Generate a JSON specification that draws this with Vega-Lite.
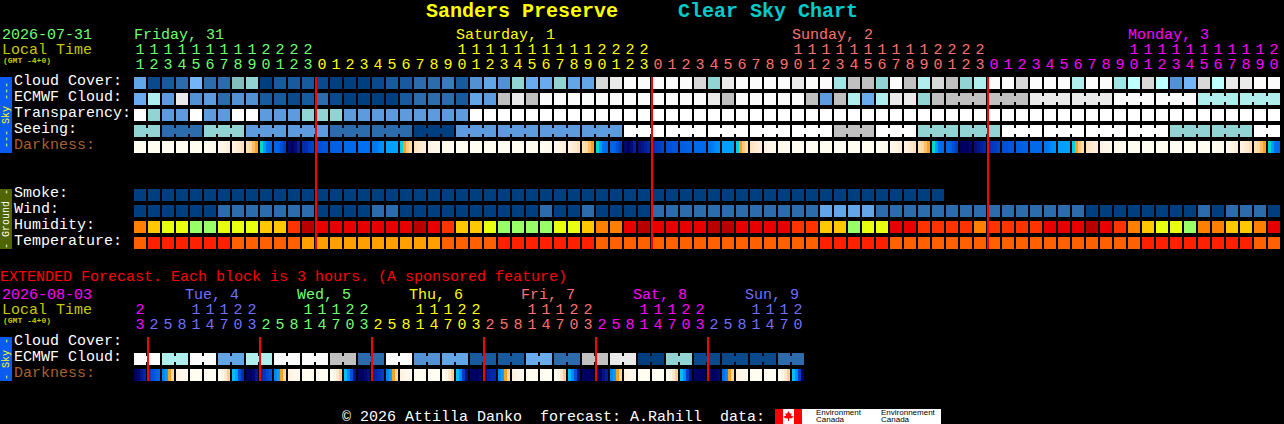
{"$schema":"https://vega.github.io/schema/vega-lite/v6.json","width":1284,"height":424,"padding":0,"autosize":"none","background":"#000000","config":{"view":{"stroke":null},"text":{"font":"Liberation Mono","fontSize":15,"align":"left"}},
"datasets":{
"hourly":[
{"i":0,"t":"1","o":"1","day":"Fri","cc":"c40","ec":"c45","tr":"w","se":"c60","sm":"c0","wi":"c0","hu":"h1","te":"t1","d1":0,"d2":0,"d3":0,"d4":0},
{"i":1,"t":"1","o":"2","day":"Fri","cc":"c5","ec":"c70","tr":"c60","se":"c60","sm":"c0","wi":"c0","hu":"h2","te":"t2","d1":0,"d2":0,"d3":0,"d4":0},
{"i":2,"t":"1","o":"3","day":"Fri","cc":"c10","ec":"c35","tr":"c35","se":"c20","sm":"c0","wi":"c0","hu":"h3","te":"t2","d1":0,"d2":0,"d3":0,"d4":0},
{"i":3,"t":"1","o":"4","day":"Fri","cc":"c20","ec":"c90","tr":"c35","se":"c20","sm":"c0","wi":"c0","hu":"h3","te":"t2","d1":0,"d2":0,"d3":0,"d4":0},
{"i":4,"t":"1","o":"5","day":"Fri","cc":"c50","ec":"c30","tr":"w","se":"c20","sm":"c0","wi":"c0","hu":"h4","te":"t2","d1":0,"d2":0,"d3":0,"d4":0},
{"i":5,"t":"1","o":"6","day":"Fri","cc":"c20","ec":"c35","tr":"c35","se":"c60","sm":"c0","wi":"c0","hu":"h4","te":"t2","d1":0.1,"d2":0.3,"d3":0.4,"d4":0.5},
{"i":6,"t":"1","o":"7","day":"Fri","cc":"c20","ec":"c20","tr":"c35","se":"c60","sm":"c0","wi":"c20","hu":"h3","te":"t2","d1":0.6,"d2":0.9,"d3":1.2,"d4":1.5},
{"i":7,"t":"1","o":"8","day":"Fri","cc":"c55","ec":"c30","tr":"w","se":"c60","sm":"c0","wi":"c20","hu":"h3","te":"t1","d1":1.2,"d2":1.6,"d3":2,"d4":2.4},
{"i":8,"t":"1","o":"9","day":"Fri","cc":"c60","ec":"c30","tr":"w","se":"c35","sm":"c0","wi":"c20","hu":"h3","te":"t1","d1":2.5,"d2":3,"d3":3.5,"d4":4},
{"i":9,"t":"2","o":"0","day":"Fri","cc":"c0","ec":"c10","tr":"c35","se":"c35","sm":"c0","wi":"c20","hu":"h2","te":"t1","d1":4.9,"d2":6.2,"d3":7,"d4":7.2},
{"i":10,"t":"2","o":"1","day":"Fri","cc":"c10","ec":"c10","tr":"c35","se":"c35","sm":"c0","wi":"c20","hu":"h2","te":"t1","d1":7.3,"d2":7.5,"d3":8,"d4":8.5},
{"i":11,"t":"2","o":"2","day":"Fri","cc":"c10","ec":"c5","tr":"c35","se":"c35","sm":"c0","wi":"c20","hu":"h5","te":"t1","d1":9.8,"d2":10,"d3":9.7,"d4":9.2},
{"i":12,"t":"2","o":"3","day":"Fri","cc":"c10","ec":"c10","tr":"c60","se":"c35","sm":"c0","wi":"c20","hu":"h7","te":"t3","d1":9,"d2":8.8,"d3":8.5,"d4":8.3},
{"i":13,"t":"","o":"0","day":"Sat","cc":"c5","ec":"c20","tr":"c60","se":"c35","sm":"c0","wi":"c0","hu":"h6","te":"t3","d1":8,"d2":8,"d3":7.8,"d4":7.8},
{"i":14,"t":"","o":"1","day":"Sat","cc":"c0","ec":"c5","tr":"c60","se":"c20","sm":"c0","wi":"c0","hu":"h6","te":"t3","d1":7.6,"d2":7.5,"d3":7.5,"d4":7.4},
{"i":15,"t":"","o":"2","day":"Sat","cc":"c0","ec":"c0","tr":"c35","se":"c20","sm":"c0","wi":"c0","hu":"h6","te":"t3","d1":7.2,"d2":7.2,"d3":7.2,"d4":7.2},
{"i":16,"t":"","o":"3","day":"Sat","cc":"c0","ec":"c0","tr":"c35","se":"c20","sm":"c0","wi":"c0","hu":"h6","te":"t3","d1":7,"d2":7,"d3":7,"d4":7},
{"i":17,"t":"","o":"4","day":"Sat","cc":"c5","ec":"c0","tr":"c35","se":"c20","sm":"c0","wi":"c20","hu":"h6","te":"t3","d1":6.9,"d2":6.8,"d3":6.5,"d4":6.3},
{"i":18,"t":"","o":"5","day":"Sat","cc":"c10","ec":"c0","tr":"c35","se":"c20","sm":"c0","wi":"c20","hu":"h6","te":"t3","d1":6,"d2":6,"d3":6,"d4":6},
{"i":19,"t":"","o":"6","day":"Sat","cc":"c10","ec":"c10","tr":"c35","se":"c20","sm":"c0","wi":"c0","hu":"h6","te":"t3","d1":5.2,"d2":4,"d3":3.3,"d4":2.8},
{"i":20,"t":"","o":"7","day":"Sat","cc":"c20","ec":"c20","tr":"c35","se":"c0","sm":"c0","wi":"c0","hu":"h7","te":"t3","d1":2.3,"d2":2,"d3":1.7,"d4":1.5},
{"i":21,"t":"","o":"8","day":"Sat","cc":"c20","ec":"c20","tr":"c35","se":"c0","sm":"c0","wi":"c0","hu":"h6","te":"t3","d1":1.2,"d2":1,"d3":0.9,"d4":0.8},
{"i":22,"t":"","o":"9","day":"Sat","cc":"c25","ec":"c20","tr":"c35","se":"c0","sm":"c0","wi":"c0","hu":"h5","te":"t1","d1":0.6,"d2":0.5,"d3":0.4,"d4":0.3},
{"i":23,"t":"1","o":"0","day":"Sat","cc":"c10","ec":"c10","tr":"c35","se":"c35","sm":"c0","wi":"c0","hu":"h2","te":"t1","d1":0,"d2":0,"d3":0,"d4":0},
{"i":24,"t":"1","o":"1","day":"Sat","cc":"c30","ec":"c40","tr":"w","se":"c35","sm":"c0","wi":"c0","hu":"h2","te":"t1","d1":0,"d2":0,"d3":0,"d4":0},
{"i":25,"t":"1","o":"2","day":"Sat","cc":"c40","ec":"c35","tr":"w","se":"c35","sm":"c0","wi":"c0","hu":"h3","te":"t1","d1":0,"d2":0,"d3":0,"d4":0},
{"i":26,"t":"1","o":"3","day":"Sat","cc":"c30","ec":"c80","tr":"w","se":"c35","sm":"c0","wi":"c0","hu":"h4","te":"t2","d1":0,"d2":0,"d3":0,"d4":0},
{"i":27,"t":"1","o":"4","day":"Sat","cc":"c60","ec":"c90","tr":"w","se":"c35","sm":"c0","wi":"c0","hu":"h4","te":"t2","d1":0,"d2":0,"d3":0,"d4":0},
{"i":28,"t":"1","o":"5","day":"Sat","cc":"c45","ec":"c80","tr":"w","se":"c35","sm":"c0","wi":"c0","hu":"h4","te":"t2","d1":0,"d2":0,"d3":0,"d4":0},
{"i":29,"t":"1","o":"6","day":"Sat","cc":"c45","ec":"c95","tr":"w","se":"c35","sm":"c0","wi":"c20","hu":"h4","te":"t2","d1":0.1,"d2":0.3,"d3":0.4,"d4":0.5},
{"i":30,"t":"1","o":"7","day":"Sat","cc":"c60","ec":"c95","tr":"w","se":"c35","sm":"c0","wi":"c0","hu":"h3","te":"t2","d1":0.6,"d2":0.9,"d3":1.2,"d4":1.5},
{"i":31,"t":"1","o":"8","day":"Sat","cc":"c40","ec":"c95","tr":"w","se":"c35","sm":"c0","wi":"c0","hu":"h3","te":"t2","d1":1.2,"d2":1.6,"d3":2,"d4":2.4},
{"i":32,"t":"1","o":"9","day":"Sat","cc":"c40","ec":"c95","tr":"w","se":"c35","sm":"c0","wi":"c20","hu":"h2","te":"t2","d1":2.5,"d2":3,"d3":3.5,"d4":4},
{"i":33,"t":"2","o":"0","day":"Sat","cc":"c85","ec":"c95","tr":"w","se":"c35","sm":"c0","wi":"c0","hu":"h1","te":"t1","d1":4.9,"d2":6.2,"d3":7,"d4":7.2},
{"i":34,"t":"2","o":"1","day":"Sat","cc":"c90","ec":"c95","tr":"w","se":"c35","sm":"c0","wi":"c0","hu":"h1","te":"t1","d1":7.3,"d2":7.5,"d3":8,"d4":8.5},
{"i":35,"t":"2","o":"2","day":"Sat","cc":"c95","ec":"c95","tr":"w","se":"w","sm":"c0","wi":"c0","hu":"h6","te":"t1","d1":9.8,"d2":10,"d3":9.7,"d4":9.2},
{"i":36,"t":"2","o":"3","day":"Sat","cc":"c95","ec":"c95","tr":"w","se":"w","sm":"c0","wi":"c0","hu":"h7","te":"t1","d1":9.6,"d2":9.4,"d3":9.2,"d4":9},
{"i":37,"t":"","o":"0","day":"Sun","cc":"c95","ec":"c95","tr":"w","se":"w","sm":"c0","wi":"c20","hu":"h6","te":"t1","d1":8.8,"d2":8.6,"d3":8.5,"d4":8.3},
{"i":38,"t":"","o":"1","day":"Sun","cc":"c95","ec":"c95","tr":"w","se":"w","sm":"c0","wi":"c20","hu":"h6","te":"t1","d1":8,"d2":8,"d3":7.8,"d4":7.8},
{"i":39,"t":"","o":"2","day":"Sun","cc":"c95","ec":"c95","tr":"w","se":"w","sm":"c0","wi":"c20","hu":"h6","te":"t1","d1":7.6,"d2":7.5,"d3":7.5,"d4":7.4},
{"i":40,"t":"","o":"3","day":"Sun","cc":"c85","ec":"c95","tr":"w","se":"w","sm":"c0","wi":"c20","hu":"h6","te":"t1","d1":7.2,"d2":7.2,"d3":7.2,"d4":7.2},
{"i":41,"t":"","o":"4","day":"Sun","cc":"c60","ec":"c90","tr":"w","se":"w","sm":"c0","wi":"c20","hu":"h7","te":"t1","d1":6.9,"d2":6.8,"d3":6.5,"d4":6.3},
{"i":42,"t":"","o":"5","day":"Sun","cc":"c90","ec":"c80","tr":"w","se":"w","sm":"c0","wi":"c20","hu":"h7","te":"t1","d1":6,"d2":6,"d3":6,"d4":6},
{"i":43,"t":"","o":"6","day":"Sun","cc":"c95","ec":"c95","tr":"w","se":"w","sm":"c0","wi":"c20","hu":"h6","te":"t1","d1":5.2,"d2":4,"d3":3.3,"d4":2.8},
{"i":44,"t":"","o":"7","day":"Sun","cc":"c95","ec":"c95","tr":"w","se":"w","sm":"c0","wi":"c20","hu":"h6","te":"t1","d1":2.3,"d2":2,"d3":1.7,"d4":1.5},
{"i":45,"t":"","o":"8","day":"Sun","cc":"c95","ec":"c95","tr":"w","se":"w","sm":"c0","wi":"c20","hu":"h6","te":"t1","d1":1.2,"d2":1,"d3":0.9,"d4":0.8},
{"i":46,"t":"","o":"9","day":"Sun","cc":"c95","ec":"c95","tr":"w","se":"w","sm":"c0","wi":"c20","hu":"h6","te":"t1","d1":0.6,"d2":0.5,"d3":0.4,"d4":0.3},
{"i":47,"t":"1","o":"0","day":"Sun","cc":"c90","ec":"c95","tr":"w","se":"w","sm":"c0","wi":"c20","hu":"h5","te":"t1","d1":0,"d2":0,"d3":0,"d4":0},
{"i":48,"t":"1","o":"1","day":"Sun","cc":"c95","ec":"c80","tr":"w","se":"w","sm":"c0","wi":"c20","hu":"h5","te":"t1","d1":0,"d2":0,"d3":0,"d4":0},
{"i":49,"t":"1","o":"2","day":"Sun","cc":"c95","ec":"c35","tr":"w","se":"w","sm":"c0","wi":"c40","hu":"h2","te":"t2","d1":0,"d2":0,"d3":0,"d4":0},
{"i":50,"t":"1","o":"3","day":"Sun","cc":"c65","ec":"c80","tr":"w","se":"c80","sm":"c0","wi":"c40","hu":"h2","te":"t2","d1":0,"d2":0,"d3":0,"d4":0},
{"i":51,"t":"1","o":"4","day":"Sun","cc":"c80","ec":"c70","tr":"w","se":"c80","sm":"c0","wi":"c40","hu":"h4","te":"t2","d1":0,"d2":0,"d3":0,"d4":0},
{"i":52,"t":"1","o":"5","day":"Sun","cc":"c80","ec":"c45","tr":"w","se":"c80","sm":"c0","wi":"c40","hu":"h3","te":"t2","d1":0,"d2":0,"d3":0,"d4":0},
{"i":53,"t":"1","o":"6","day":"Sun","cc":"c60","ec":"c70","tr":"w","se":"w","sm":"c0","wi":"c20","hu":"h3","te":"t2","d1":0.1,"d2":0.3,"d3":0.4,"d4":0.5},
{"i":54,"t":"1","o":"7","day":"Sun","cc":"c95","ec":"c90","tr":"w","se":"w","sm":"c0","wi":"c20","hu":"h6","te":"t1","d1":0.6,"d2":0.9,"d3":1.2,"d4":1.5},
{"i":55,"t":"1","o":"8","day":"Sun","cc":"c80","ec":"c90","tr":"w","se":"w","sm":"c0","wi":"c20","hu":"h6","te":"t1","d1":1.2,"d2":1.6,"d3":2,"d4":2.4},
{"i":56,"t":"1","o":"9","day":"Sun","cc":"c70","ec":"c60","tr":"w","se":"c60","sm":"c0","wi":"c20","hu":"h5","te":"t1","d1":2.5,"d2":3,"d3":3.5,"d4":4},
{"i":57,"t":"2","o":"0","day":"Sun","cc":"c85","ec":"c80","tr":"w","se":"c60","sm":"c0","wi":"c20","hu":"h5","te":"t1","d1":4.9,"d2":6.2,"d3":7,"d4":7.2},
{"i":58,"t":"2","o":"1","day":"Sun","cc":"c80","ec":"c80","tr":"w","se":"c60","wi":"c20","hu":"h5","te":"t1","d1":7.3,"d2":7.5,"d3":8,"d4":8.5},
{"i":59,"t":"2","o":"2","day":"Sun","cc":"c60","ec":"c80","tr":"w","se":"c60","wi":"c20","hu":"h5","te":"t1","d1":10,"d2":10,"d3":10,"d4":9.8},
{"i":60,"t":"2","o":"3","day":"Sun","cc":"c70","ec":"c80","tr":"w","se":"c60","wi":"c20","hu":"h1","te":"t1","d1":9.6,"d2":9.4,"d3":9.2,"d4":9},
{"i":61,"t":"","o":"0","day":"Mon","cc":"c95","ec":"c80","tr":"w","se":"c60","wi":"c20","hu":"h5","te":"t1","d1":8.8,"d2":8.6,"d3":8.5,"d4":8.3},
{"i":62,"t":"","o":"1","day":"Mon","cc":"c95","ec":"c80","tr":"w","se":"w","wi":"c20","hu":"h5","te":"t1","d1":8,"d2":8,"d3":7.8,"d4":7.8},
{"i":63,"t":"","o":"2","day":"Mon","cc":"c85","ec":"c80","tr":"w","se":"w","wi":"c20","hu":"h5","te":"t1","d1":7.6,"d2":7.5,"d3":7.5,"d4":7.4},
{"i":64,"t":"","o":"3","day":"Mon","cc":"c95","ec":"c90","tr":"w","se":"w","wi":"c20","hu":"h5","te":"t1","d1":7.2,"d2":7.2,"d3":7.2,"d4":7.2},
{"i":65,"t":"","o":"4","day":"Mon","cc":"c95","ec":"c90","tr":"w","se":"w","wi":"c20","hu":"h6","te":"t1","d1":6.9,"d2":6.8,"d3":6.5,"d4":6.3},
{"i":66,"t":"","o":"5","day":"Mon","cc":"c95","ec":"c90","tr":"w","se":"w","wi":"c20","hu":"h6","te":"t1","d1":6,"d2":6,"d3":6,"d4":6},
{"i":67,"t":"","o":"6","day":"Mon","cc":"c70","ec":"c90","tr":"w","se":"w","wi":"c20","hu":"h6","te":"t1","d1":5.2,"d2":4,"d3":3.3,"d4":2.8},
{"i":68,"t":"","o":"7","day":"Mon","cc":"c95","ec":"c90","tr":"w","se":"w","wi":"c0","hu":"h7","te":"t1","d1":2.3,"d2":2,"d3":1.7,"d4":1.5},
{"i":69,"t":"","o":"8","day":"Mon","cc":"c95","ec":"c90","tr":"w","se":"w","wi":"c0","hu":"h6","te":"t1","d1":1.2,"d2":1,"d3":0.9,"d4":0.8},
{"i":70,"t":"","o":"9","day":"Mon","cc":"c65","ec":"c95","tr":"w","se":"w","wi":"c0","hu":"h5","te":"t1","d1":0.6,"d2":0.5,"d3":0.4,"d4":0.3},
{"i":71,"t":"1","o":"0","day":"Mon","cc":"c75","ec":"c95","tr":"w","se":"w","wi":"c0","hu":"h1","te":"t1","d1":0,"d2":0,"d3":0,"d4":0},
{"i":72,"t":"1","o":"1","day":"Mon","cc":"c85","ec":"c95","tr":"w","se":"w","wi":"c0","hu":"h2","te":"t2","d1":0,"d2":0,"d3":0,"d4":0},
{"i":73,"t":"1","o":"2","day":"Mon","cc":"c75","ec":"c95","tr":"w","se":"w","wi":"c0","hu":"h3","te":"t2","d1":0,"d2":0,"d3":0,"d4":0},
{"i":74,"t":"1","o":"3","day":"Mon","cc":"c30","ec":"c95","tr":"w","se":"c60","wi":"c0","hu":"h3","te":"t2","d1":0,"d2":0,"d3":0,"d4":0},
{"i":75,"t":"1","o":"4","day":"Mon","cc":"c50","ec":"c95","tr":"w","se":"c60","wi":"c0","hu":"h4","te":"t2","d1":0,"d2":0,"d3":0,"d4":0},
{"i":76,"t":"1","o":"5","day":"Mon","cc":"c85","ec":"c70","tr":"w","se":"c60","wi":"c20","hu":"h1","te":"t2","d1":0,"d2":0,"d3":0,"d4":0},
{"i":77,"t":"1","o":"6","day":"Mon","cc":"c75","ec":"c70","tr":"w","se":"c60","wi":"c0","hu":"h1","te":"t2","d1":0.1,"d2":0.3,"d3":0.4,"d4":0.5},
{"i":78,"t":"1","o":"7","day":"Mon","cc":"c90","ec":"c70","tr":"w","se":"c60","wi":"c20","hu":"h2","te":"t2","d1":0.6,"d2":0.9,"d3":1.2,"d4":1.5},
{"i":79,"t":"1","o":"8","day":"Mon","cc":"c90","ec":"c70","tr":"w","se":"c60","wi":"c20","hu":"h2","te":"t2","d1":1.2,"d2":1.6,"d3":2,"d4":2.4},
{"i":80,"t":"1","o":"9","day":"Mon","cc":"c95","ec":"c70","tr":"w","se":"w","wi":"c20","hu":"h1","te":"t1","d1":2.5,"d2":3,"d3":3.5,"d4":4},
{"i":81,"t":"2","o":"0","day":"Mon","cc":"c95","ec":"c70","tr":"w","se":"w","wi":"c0","hu":"h6","te":"t1","d1":4.9,"d2":6.2,"d3":7,"d4":7.2}
],
"extended":[
{"i":0,"t":"2","o":"3","day":"Mon","ec":"c95","d1":10,"d2":9.8,"d3":9.4,"d4":9},
{"i":1,"t":"","o":"2","day":"Tue","ec":"c95","d1":8.5,"d2":8,"d3":7.6,"d4":7.3},
{"i":2,"t":"","o":"5","day":"Tue","ec":"c70","d1":6.5,"d2":6,"d3":4,"d4":3},
{"i":3,"t":"","o":"8","day":"Tue","ec":"c70","d1":1.2,"d2":0.9,"d3":0.6,"d4":0.4},
{"i":4,"t":"1","o":"1","day":"Tue","ec":"c95","d1":0,"d2":0,"d3":0,"d4":0},
{"i":5,"t":"1","o":"4","day":"Tue","ec":"c95","d1":0,"d2":0,"d3":0,"d4":0},
{"i":6,"t":"1","o":"7","day":"Tue","ec":"c40","d1":0.3,"d2":1,"d3":2,"d4":3.2},
{"i":7,"t":"2","o":"0","day":"Tue","ec":"c40","d1":5.5,"d2":6,"d3":8,"d4":8.8},
{"i":8,"t":"2","o":"3","day":"Tue","ec":"c70","d1":10,"d2":10,"d3":9.8,"d4":9.4},
{"i":9,"t":"","o":"2","day":"Wed","ec":"c70","d1":9,"d2":8.6,"d3":8.2,"d4":7.9},
{"i":10,"t":"","o":"5","day":"Wed","ec":"c95","d1":6.5,"d2":6,"d3":4,"d4":3},
{"i":11,"t":"","o":"8","day":"Wed","ec":"c95","d1":1.2,"d2":0.9,"d3":0.6,"d4":0.4},
{"i":12,"t":"1","o":"1","day":"Wed","ec":"c95","d1":0,"d2":0,"d3":0,"d4":0},
{"i":13,"t":"1","o":"4","day":"Wed","ec":"c95","d1":0,"d2":0,"d3":0,"d4":0},
{"i":14,"t":"1","o":"7","day":"Wed","ec":"c80","d1":0.3,"d2":1,"d3":2,"d4":3.2},
{"i":15,"t":"2","o":"0","day":"Wed","ec":"c80","d1":5.5,"d2":6.5,"d3":8,"d4":9.4},
{"i":16,"t":"2","o":"3","day":"Wed","ec":"c20","d1":10,"d2":10,"d3":9.8,"d4":9.6},
{"i":17,"t":"","o":"2","day":"Thu","ec":"c20","d1":9.2,"d2":9,"d3":8.8,"d4":8.5},
{"i":18,"t":"","o":"5","day":"Thu","ec":"c95","d1":6.5,"d2":6,"d3":4,"d4":3},
{"i":19,"t":"","o":"8","day":"Thu","ec":"c95","d1":1.2,"d2":0.9,"d3":0.6,"d4":0.4},
{"i":20,"t":"1","o":"1","day":"Thu","ec":"c30","d1":0,"d2":0,"d3":0,"d4":0},
{"i":21,"t":"1","o":"4","day":"Thu","ec":"c30","d1":0,"d2":0,"d3":0,"d4":0},
{"i":22,"t":"1","o":"7","day":"Thu","ec":"c40","d1":0.3,"d2":1,"d3":2,"d4":3.2},
{"i":23,"t":"2","o":"0","day":"Thu","ec":"c40","d1":5.5,"d2":6.5,"d3":8.5,"d4":9.5},
{"i":24,"t":"2","o":"3","day":"Thu","ec":"c10","d1":10,"d2":10,"d3":10,"d4":9.8},
{"i":25,"t":"","o":"2","day":"Fri","ec":"c10","d1":9.6,"d2":9.2,"d3":9,"d4":9},
{"i":26,"t":"","o":"5","day":"Fri","ec":"c10","d1":6.5,"d2":6,"d3":4,"d4":3},
{"i":27,"t":"","o":"8","day":"Fri","ec":"c10","d1":1.2,"d2":0.9,"d3":0.6,"d4":0.4},
{"i":28,"t":"1","o":"1","day":"Fri","ec":"c45","d1":0,"d2":0,"d3":0,"d4":0},
{"i":29,"t":"1","o":"4","day":"Fri","ec":"c45","d1":0,"d2":0,"d3":0,"d4":0},
{"i":30,"t":"1","o":"7","day":"Fri","ec":"c20","d1":0.3,"d2":1,"d3":2,"d4":3.2},
{"i":31,"t":"2","o":"0","day":"Fri","ec":"c20","d1":5.5,"d2":6.5,"d3":8,"d4":9.5},
{"i":32,"t":"2","o":"3","day":"Fri","ec":"c80","d1":10,"d2":10,"d3":10,"d4":10},
{"i":33,"t":"","o":"2","day":"Sat","ec":"c80","d1":10,"d2":10,"d3":9.5,"d4":9.2},
{"i":34,"t":"","o":"5","day":"Sat","ec":"c90","d1":6.5,"d2":6,"d3":4,"d4":3},
{"i":35,"t":"","o":"8","day":"Sat","ec":"c90","d1":1.2,"d2":0.9,"d3":0.6,"d4":0.4},
{"i":36,"t":"1","o":"1","day":"Sat","ec":"c0","d1":0,"d2":0,"d3":0,"d4":0},
{"i":37,"t":"1","o":"4","day":"Sat","ec":"c0","d1":0,"d2":0,"d3":0,"d4":0},
{"i":38,"t":"1","o":"7","day":"Sat","ec":"c60","d1":0.3,"d2":1,"d3":2,"d4":3.2},
{"i":39,"t":"2","o":"0","day":"Sat","ec":"c60","d1":5.5,"d2":6.5,"d3":8.5,"d4":9.5},
{"i":40,"t":"2","o":"3","day":"Sat","ec":"c5","d1":10,"d2":10,"d3":10,"d4":10},
{"i":41,"t":"","o":"2","day":"Sun","ec":"c5","d1":10,"d2":10,"d3":10,"d4":9.8},
{"i":42,"t":"","o":"5","day":"Sun","ec":"c5","d1":7,"d2":6.5,"d3":4,"d4":3},
{"i":43,"t":"","o":"8","day":"Sun","ec":"c5","d1":1.2,"d2":0.9,"d3":0.6,"d4":0.4},
{"i":44,"t":"1","o":"1","day":"Sun","ec":"c5","d1":0,"d2":0,"d3":0,"d4":0},
{"i":45,"t":"1","o":"4","day":"Sun","ec":"c5","d1":0,"d2":0,"d3":0,"d4":0},
{"i":46,"t":"1","o":"7","day":"Sun","ec":"c20","d1":0.3,"d2":1,"d3":2,"d4":3.2},
{"i":47,"t":"2","o":"0","day":"Sun","ec":"c20","d1":5.5,"d2":6.5,"d3":8.5,"d4":10}
]},
"encoding":{"x":{"field":"i","type":"ordinal","axis":null,"scale":{"type":"band","domain":[0,1,2,3,4,5,6,7,8,9,10,11,12,13,14,15,16,17,18,19,20,21,22,23,24,25,26,27,28,29,30,31,32,33,34,35,36,37,38,39,40,41,42,43,44,45,46,47,48,49,50,51,52,53,54,55,56,57,58,59,60,61,62,63,64,65,66,67,68,69,70,71,72,73,74,75,76,77,78,79,80,81],"range":[134,1280],"paddingInner":0.142857142857,"paddingOuter":0}}},
"resolve":{"scale":{"y":"independent","color":"independent"}},
"layer":[
{"data":{"values":[{}]},"mark":{"type":"text","fontWeight":"bold","fontSize":20},"encoding":{"x":{"value":426},"y":{"value":11},"text":{"value":"Sanders Preserve"},"color":{"value":"#ffff00"}}},
{"data":{"values":[{}]},"mark":{"type":"text","fontWeight":"bold","fontSize":20},"encoding":{"x":{"value":678},"y":{"value":11},"text":{"value":"Clear Sky Chart"},"color":{"value":"#00cccc"}}},
{"data":{"values":[{}]},"mark":{"type":"text"},"encoding":{"x":{"value":2},"y":{"value":34},"text":{"value":"2026-07-31"},"color":{"value":"#70ff70"}}},
{"data":{"values":[{}]},"mark":{"type":"text"},"encoding":{"x":{"value":2},"y":{"value":49},"text":{"value":"Local Time"},"color":{"value":"#c8c800"}}},
{"data":{"values":[{}]},"mark":{"type":"text","fontSize":8,"fontWeight":"bold"},"encoding":{"x":{"value":3},"y":{"value":61},"text":{"value":"(GMT -4+0)"},"color":{"value":"#c8c800"}}},
{"data":{"values":[{"text":"Friday, 31","i":0,"day":"Fri"},{"text":"Saturday, 1","i":23,"day":"Sat"},{"text":"Sunday, 2","i":47,"day":"Sun"},{"text":"Monday, 3","i":71,"day":"Mon"}]},"mark":{"type":"text","dx":-6},"encoding":{"y":{"datum":"day","type":"ordinal","axis":null,"scale":{"type":"point","domain":["day","tens","ones"],"range":[34,64],"padding":0}},"text":{"field":"text"},"color":{"field":"day","legend":null,"scale":{"domain":["Fri","Sat","Sun","Mon"],"range":["#70ff70","#ffff00","#ff7070","#ff00ff"]}}}},
{"data":{"name":"hourly"},"mark":{"type":"text","align":"center"},"encoding":{"y":{"datum":"tens","type":"ordinal","axis":null,"scale":{"type":"point","domain":["day","tens","ones"],"range":[34,64],"padding":0}},"text":{"field":"t"},"color":{"field":"day","legend":null,"scale":{"domain":["Fri","Sat","Sun","Mon"],"range":["#70ff70","#ffff00","#ff7070","#ff00ff"]}}}},
{"data":{"name":"hourly"},"mark":{"type":"text","align":"center"},"encoding":{"y":{"datum":"ones","type":"ordinal","axis":null,"scale":{"type":"point","domain":["day","tens","ones"],"range":[34,64],"padding":0}},"text":{"field":"o"},"color":{"field":"day","legend":null,"scale":{"domain":["Fri","Sat","Sun","Mon"],"range":["#70ff70","#ffff00","#ff7070","#ff00ff"]}}}},
{"data":{"values":[{}]},"mark":{"type":"rect","yOffset":-6,"y2Offset":6},"encoding":{"x":{"value":0},"x2":{"value":12},"y":{"datum":"cc","type":"ordinal","axis":null,"scale":{"type":"band","domain":["cc","ec","tr","se","da","g1","g2","sm","wi","hu","te"],"range":[77,249],"paddingInner":0.25,"paddingOuter":0}},"y2":{"datum":"da"},"color":{"value":"#0a5cf0"}}},
{"data":{"values":[{}]},"mark":{"type":"rect","yOffset":-6,"y2Offset":6},"encoding":{"x":{"value":0},"x2":{"value":12},"y":{"datum":"sm","type":"ordinal","axis":null,"scale":{"type":"band","domain":["cc","ec","tr","se","da","g1","g2","sm","wi","hu","te"],"range":[77,249],"paddingInner":0.25,"paddingOuter":0}},"y2":{"datum":"te"},"color":{"value":"#4f6600"}}},
{"data":{"values":[{}]},"mark":{"type":"text","align":"center","angle":270,"fontSize":10},"encoding":{"x":{"value":6},"y":{"value":115},"text":{"value":"--- Sky ---"},"color":{"value":"#ffff00"}}},
{"data":{"values":[{}]},"mark":{"type":"text","align":"center","angle":270,"fontSize":10},"encoding":{"x":{"value":6},"y":{"value":219},"text":{"value":"- Ground -"},"color":{"value":"#ffffff"}}},
{"data":{"values":[{"row":"cc","label":"Cloud Cover:"},{"row":"ec","label":"ECMWF Cloud:"},{"row":"tr","label":"Transparency:"},{"row":"se","label":"Seeing:"},{"row":"da","label":"Darkness:"},{"row":"sm","label":"Smoke:"},{"row":"wi","label":"Wind:"},{"row":"hu","label":"Humidity:"},{"row":"te","label":"Temperature:"}]},"mark":{"type":"text","dy":-3},"encoding":{"x":{"value":14},"y":{"field":"row","type":"ordinal","axis":null,"scale":{"type":"band","domain":["cc","ec","tr","se","da","g1","g2","sm","wi","hu","te"],"range":[77,249],"paddingInner":0.25,"paddingOuter":0}},"text":{"field":"label"},"color":{"condition":{"test":"datum.row==='da'","value":"#a8602c"},"value":"#ffffff"}}},
{"data":{"name":"hourly"},"transform":[{"fold":["cc","ec","tr","se","sm","wi","hu","te"],"as":["row","level"]},{"filter":"datum.level"}],"mark":{"type":"rect"},"encoding":{"y":{"field":"row","type":"ordinal","axis":null,"scale":{"type":"band","domain":["cc","ec","tr","se","da","g1","g2","sm","wi","hu","te"],"range":[77,249],"paddingInner":0.25,"paddingOuter":0}},"color":{"field":"level","type":"nominal","legend":null,"scale":{"domain":["c0","c5","c10","c20","c25","c30","c35","c40","c45","c50","c55","c60","c65","c70","c75","c80","c85","c90","c95","w","h1","h2","h3","h4","h5","h6","h7","t1","t2","t3"],"range":["#003f7f","#0a4a8c","#175a9e","#2c6cad","#3a7bc0","#5291d4","#5d9ade","#63a6e8","#6aaaee","#74b4f8","#82c0c0","#92d3d3","#a0e5e5","#b0eded","#beffff","#c0c0c0","#d8d8d8","#eaeaea","#fbfbfb","#ffffff","#ff8000","#ffc800","#e8ff10","#99ff66","#ff3300","#e80000","#b80000","#ff6000","#ff2000","#ffa000"]}}}},
{"data":{"name":"hourly"},"transform":[{"fold":["ec","se"],"as":["row","level"]},{"filter":"(datum.row==='se' && datum.i%3!==1 && datum.i<81) || (datum.row==='ec' && datum.i>=58 && datum.i%3!==0 && datum.i<81)"}],"mark":{"type":"rect","width":4,"height":6,"xOffset":7},"encoding":{"y":{"field":"row","type":"ordinal","axis":null,"scale":{"type":"band","domain":["cc","ec","tr","se","da","g1","g2","sm","wi","hu","te"],"range":[77,249],"paddingInner":0.25,"paddingOuter":0}},"color":{"field":"level","type":"nominal","legend":null,"scale":{"domain":["c0","c20","c35","c60","c70","c80","c90","c95","w"],"range":["#003f7f","#2c6cad","#5d9ade","#92d3d3","#b0eded","#c0c0c0","#eaeaea","#fbfbfb","#ffffff"]}}}},
{"data":{"name":"hourly"},"transform":[{"fold":["d1","d2","d3","d4"],"as":["part","dark"]}],"mark":{"type":"rect"},"encoding":{"xOffset":{"field":"part","type":"nominal","scale":{"domain":["d1","d2","d3","d4"],"paddingInner":0,"paddingOuter":0}},"y":{"datum":"da","type":"ordinal","axis":null,"scale":{"type":"band","domain":["cc","ec","tr","se","da","g1","g2","sm","wi","hu","te"],"range":[77,249],"paddingInner":0.25,"paddingOuter":0}},"color":{"field":"dark","type":"quantitative","legend":null,"scale":{"domain":[0,1,2,3,4,5,6,7,8,9,10],"range":["#ffffff","#fff5e8","#ffe8cc","#ffd8a0","#ffa020","#00d8e0","#00a0ff","#0070f0","#0050d8","#0028a8","#000060"]}}}},
{"data":{"values":[{"i":13},{"i":37},{"i":61}]},"mark":{"type":"rule","xOffset":-6,"yOffset":-6,"y2Offset":6,"strokeWidth":2,"color":"#ff0000"},"encoding":{"y":{"datum":"cc","type":"ordinal","axis":null,"scale":{"type":"band","domain":["cc","ec","tr","se","da","g1","g2","sm","wi","hu","te"],"range":[77,249],"paddingInner":0.25,"paddingOuter":0}},"y2":{"datum":"te"}}},
{"data":{"values":[{}]},"mark":{"type":"text"},"encoding":{"x":{"value":0},"y":{"value":275.5},"text":{"value":"EXTENDED Forecast. Each block is 3 hours. (A sponsored feature)"},"color":{"value":"#ff0000"}}},
{"data":{"values":[{}]},"mark":{"type":"text"},"encoding":{"x":{"value":2},"y":{"value":294},"text":{"value":"2026-08-03"},"color":{"value":"#ff00ff"}}},
{"data":{"values":[{}]},"mark":{"type":"text"},"encoding":{"x":{"value":2},"y":{"value":309},"text":{"value":"Local Time"},"color":{"value":"#c8c800"}}},
{"data":{"values":[{}]},"mark":{"type":"text","fontSize":8,"fontWeight":"bold"},"encoding":{"x":{"value":3},"y":{"value":321},"text":{"value":"(GMT -4+0)"},"color":{"value":"#c8c800"}}},
{"data":{"values":[{"text":"Tue, 4","i":4,"day":"Tue"},{"text":"Wed, 5","i":12,"day":"Wed"},{"text":"Thu, 6","i":20,"day":"Thu"},{"text":"Fri, 7","i":28,"day":"Fri"},{"text":"Sat, 8","i":36,"day":"Sat"},{"text":"Sun, 9","i":44,"day":"Sun"}]},"mark":{"type":"text","dx":-11},"encoding":{"y":{"datum":"day","type":"ordinal","axis":null,"scale":{"type":"point","domain":["day","tens","ones"],"range":[294,324],"padding":0}},"text":{"field":"text"},"color":{"field":"day","legend":null,"scale":{"domain":["Mon","Tue","Wed","Thu","Fri","Sat","Sun"],"range":["#ff00ff","#7070ff","#70ff70","#ffff00","#ff7070","#ff00ff","#7070ff"]}}}},
{"data":{"name":"extended"},"mark":{"type":"text","align":"center"},"encoding":{"y":{"datum":"tens","type":"ordinal","axis":null,"scale":{"type":"point","domain":["day","tens","ones"],"range":[294,324],"padding":0}},"text":{"field":"t"},"color":{"field":"day","legend":null,"scale":{"domain":["Mon","Tue","Wed","Thu","Fri","Sat","Sun"],"range":["#ff00ff","#7070ff","#70ff70","#ffff00","#ff7070","#ff00ff","#7070ff"]}}}},
{"data":{"name":"extended"},"mark":{"type":"text","align":"center"},"encoding":{"y":{"datum":"ones","type":"ordinal","axis":null,"scale":{"type":"point","domain":["day","tens","ones"],"range":[294,324],"padding":0}},"text":{"field":"o"},"color":{"field":"day","legend":null,"scale":{"domain":["Mon","Tue","Wed","Thu","Fri","Sat","Sun"],"range":["#ff00ff","#7070ff","#70ff70","#ffff00","#ff7070","#ff00ff","#7070ff"]}}}},
{"data":{"values":[{}]},"mark":{"type":"rect","yOffset":-6,"y2Offset":6},"encoding":{"x":{"value":0},"x2":{"value":12},"y":{"datum":"cc","type":"ordinal","axis":null,"scale":{"type":"band","domain":["cc","ec","da"],"range":[337,381],"paddingInner":0.25,"paddingOuter":0}},"y2":{"datum":"da"},"color":{"value":"#0a5cf0"}}},
{"data":{"values":[{}]},"mark":{"type":"text","align":"center","angle":270,"fontSize":10},"encoding":{"x":{"value":6},"y":{"value":359},"text":{"value":"- Sky -"},"color":{"value":"#ffff00"}}},
{"data":{"values":[{"row":"cc","label":"Cloud Cover:"},{"row":"ec","label":"ECMWF Cloud:"},{"row":"da","label":"Darkness:"}]},"mark":{"type":"text","dy":-3},"encoding":{"x":{"value":14},"y":{"field":"row","type":"ordinal","axis":null,"scale":{"type":"band","domain":["cc","ec","da"],"range":[337,381],"paddingInner":0.25,"paddingOuter":0}},"text":{"field":"label"},"color":{"condition":{"test":"datum.row==='da'","value":"#a8602c"},"value":"#ffffff"}}},
{"data":{"name":"extended"},"mark":{"type":"rect"},"encoding":{"y":{"datum":"ec","type":"ordinal","axis":null,"scale":{"type":"band","domain":["cc","ec","da"],"range":[337,381],"paddingInner":0.25,"paddingOuter":0}},"color":{"field":"ec","type":"nominal","legend":null,"scale":{"domain":["c0","c5","c10","c20","c30","c40","c45","c60","c70","c80","c90","c95"],"range":["#003f7f","#0a4a8c","#175a9e","#2c6cad","#5291d4","#63a6e8","#6aaaee","#92d3d3","#b0eded","#c0c0c0","#eaeaea","#fbfbfb"]}}}},
{"data":{"name":"extended"},"transform":[{"filter":"datum.i%2===0"}],"mark":{"type":"rect","width":4,"height":6,"xOffset":7},"encoding":{"y":{"datum":"ec","type":"ordinal","axis":null,"scale":{"type":"band","domain":["cc","ec","da"],"range":[337,381],"paddingInner":0.25,"paddingOuter":0}},"color":{"field":"ec","type":"nominal","legend":null,"scale":{"domain":["c0","c5","c10","c20","c30","c40","c45","c60","c70","c80","c90","c95"],"range":["#003f7f","#0a4a8c","#175a9e","#2c6cad","#5291d4","#63a6e8","#6aaaee","#92d3d3","#b0eded","#c0c0c0","#eaeaea","#fbfbfb"]}}}},
{"data":{"name":"extended"},"transform":[{"fold":["d1","d2","d3","d4"],"as":["part","dark"]}],"mark":{"type":"rect"},"encoding":{"xOffset":{"field":"part","type":"nominal","scale":{"domain":["d1","d2","d3","d4"],"paddingInner":0,"paddingOuter":0}},"y":{"datum":"da","type":"ordinal","axis":null,"scale":{"type":"band","domain":["cc","ec","da"],"range":[337,381],"paddingInner":0.25,"paddingOuter":0}},"color":{"field":"dark","type":"quantitative","legend":null,"scale":{"domain":[0,1,2,3,4,5,6,7,8,9,10],"range":["#ffffff","#fff5e8","#ffe8cc","#ffd8a0","#ffa020","#00d8e0","#00a0ff","#0070f0","#0050d8","#0028a8","#000060"]}}}},
{"data":{"values":[{"i":1},{"i":9},{"i":17},{"i":25},{"i":33},{"i":41}]},"mark":{"type":"rule","xOffset":-6,"yOffset":-6,"y2Offset":6,"strokeWidth":2,"color":"#ff0000"},"encoding":{"y":{"datum":"cc","type":"ordinal","axis":null,"scale":{"type":"band","domain":["cc","ec","da"],"range":[337,381],"paddingInner":0.25,"paddingOuter":0}},"y2":{"datum":"da"}}},
{"data":{"values":[{}]},"mark":{"type":"text"},"encoding":{"x":{"value":342},"y":{"value":415.5},"text":{"value":"© 2026 Attilla Danko\u00a0\u00a0forecast: A.Rahill\u00a0\u00a0data:"},"color":{"value":"#ffffff"}}},
{"data":{"values":[{}]},"mark":{"type":"rect"},"encoding":{"x":{"value":775},"x2":{"value":941},"y":{"value":409},"y2":{"value":424},"color":{"value":"#ffffff"}}},
{"data":{"values":[{}]},"mark":{"type":"rect"},"encoding":{"x":{"value":775},"x2":{"value":783},"y":{"value":409},"y2":{"value":424},"color":{"value":"#ff0000"}}},
{"data":{"values":[{}]},"mark":{"type":"rect"},"encoding":{"x":{"value":794},"x2":{"value":802},"y":{"value":409},"y2":{"value":424},"color":{"value":"#ff0000"}}},
{"data":{"values":[{}]},"mark":{"type":"point","filled":true,"size":100,"opacity":1,"shape":"M0,-1 L0.3,-0.45 L0.65,-0.6 L0.5,-0.05 L1,0.1 L0.7,0.45 L0.1,0.5 L0.1,1 L-0.1,1 L-0.1,0.5 L-0.7,0.45 L-1,0.1 L-0.5,-0.05 L-0.65,-0.6 L-0.3,-0.45 Z"},"encoding":{"x":{"value":788.5},"y":{"value":416},"color":{"value":"#ff0000"}}},
{"data":{"values":[{}]},"mark":{"type":"text","font":"Liberation Sans","fontSize":8},"encoding":{"x":{"value":816},"y":{"value":412.5},"text":{"value":"Environment"},"color":{"value":"#000000"}}},
{"data":{"values":[{}]},"mark":{"type":"text","font":"Liberation Sans","fontSize":8},"encoding":{"x":{"value":816},"y":{"value":420},"text":{"value":"Canada"},"color":{"value":"#000000"}}},
{"data":{"values":[{}]},"mark":{"type":"text","font":"Liberation Sans","fontSize":8},"encoding":{"x":{"value":881},"y":{"value":412.5},"text":{"value":"Environnement"},"color":{"value":"#000000"}}},
{"data":{"values":[{}]},"mark":{"type":"text","font":"Liberation Sans","fontSize":8},"encoding":{"x":{"value":881},"y":{"value":420},"text":{"value":"Canada"},"color":{"value":"#000000"}}}
]}
